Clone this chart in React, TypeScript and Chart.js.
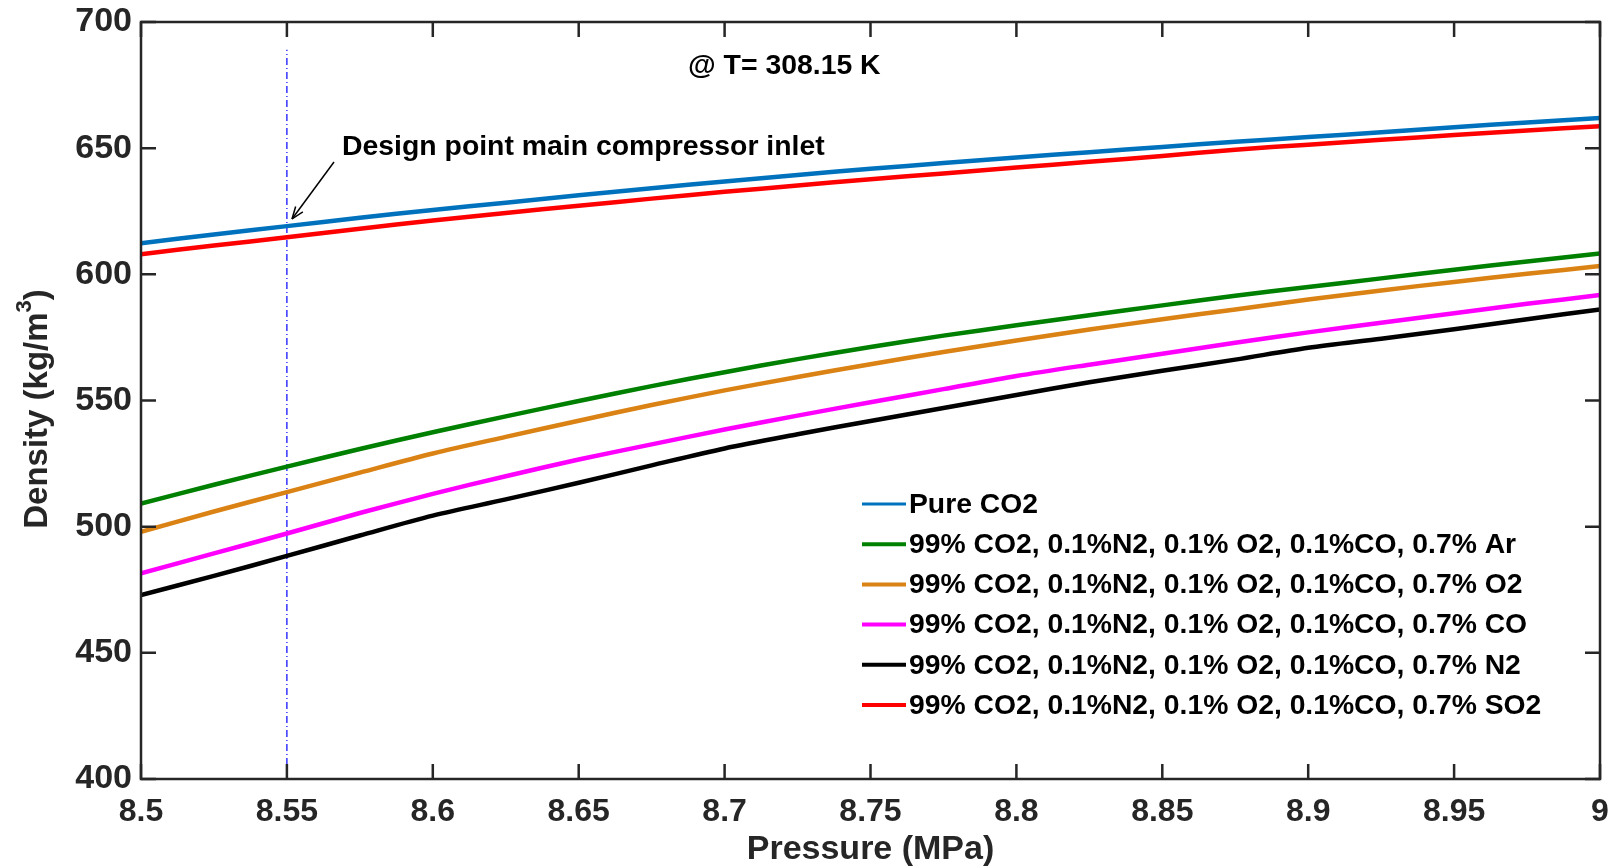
import React, { useEffect, useRef } from "react";
import { Chart, registerables } from "chart.js";

Chart.register(...registerables);

const pressure = [8.5, 8.525, 8.55, 8.575, 8.6, 8.625, 8.65, 8.675, 8.7, 8.725, 8.75, 8.775, 8.8, 8.825, 8.85, 8.875, 8.9, 8.925, 8.95, 8.975, 9.0];

const pureCO2 = [612.3, 615.8, 619.1, 622.4, 625.5, 628.4, 631.3, 634.1, 636.8, 639.4, 641.8, 644.1, 646.3, 648.4, 650.5, 652.5, 654.4, 656.3, 658.3, 660.2, 662.0];
const mixAr = [509.2, 516.6, 523.8, 530.8, 537.4, 543.7, 549.8, 555.7, 561.2, 566.4, 571.2, 575.7, 579.8, 583.8, 587.7, 591.5, 595.0, 598.4, 601.8, 605.1, 608.3];
const mixO2 = [498.0, 506.0, 513.7, 521.4, 529.0, 535.6, 542.0, 548.2, 554.0, 559.3, 564.4, 569.2, 573.8, 578.1, 582.2, 586.1, 590.0, 593.6, 597.0, 600.2, 603.3];
const mixCO = [481.5, 489.4, 497.3, 505.4, 513.0, 520.0, 526.6, 532.6, 538.5, 544.0, 549.3, 554.5, 559.7, 564.2, 568.5, 572.9, 577.0, 580.8, 584.6, 588.3, 591.8];
const mixN2 = [472.9, 480.5, 488.4, 496.5, 504.4, 510.8, 517.4, 524.3, 531.0, 536.6, 541.9, 547.0, 552.2, 557.2, 561.8, 566.2, 570.9, 574.5, 578.2, 582.2, 586.1];
const mixSO2 = [608.0, 611.4, 614.7, 618.1, 621.3, 624.3, 627.2, 630.0, 632.7, 635.2, 637.7, 640.0, 642.3, 644.6, 646.9, 649.4, 651.4, 653.3, 655.2, 657.0, 658.7];

const seriesLabels = [
  "Pure CO2",
  "99% CO2, 0.1%N2, 0.1% O2, 0.1%CO, 0.7% Ar",
  "99% CO2, 0.1%N2, 0.1% O2, 0.1%CO, 0.7% O2",
  "99% CO2, 0.1%N2, 0.1% O2, 0.1%CO, 0.7% CO",
  "99% CO2, 0.1%N2, 0.1% O2, 0.1%CO, 0.7% N2",
  "99% CO2, 0.1%N2, 0.1% O2, 0.1%CO, 0.7% SO2",
];
const seriesColors = ["#0072BD", "#008000", "#DA8214", "#FF00FF", "#000000", "#FF0000"];
const seriesValues = [pureCO2, mixAr, mixO2, mixCO, mixN2, mixSO2];

const designPressure = [8.55, 8.55];
const designDensity = [400, 689];

const yTicks = [400, 450, 500, 550, 600, 650, 700];
const xTicks = [8.5, 8.55, 8.6, 8.65, 8.7, 8.75, 8.8, 8.85, 8.9, 8.95, 9];

const FONT = "'Liberation Sans', Arial, Helvetica, sans-serif";
const AXIS_COLOR = "#262626";

const decorPlugin = {
  id: "decor",
  afterDatasetsDraw(chart: any) {
    const { ctx, chartArea, scales } = chart;
    const { left, right, top, bottom } = chartArea;
    const xs = scales.x;
    const ys = scales.y;
    ctx.save();
    // frame
    ctx.strokeStyle = AXIS_COLOR;
    ctx.lineWidth = 2.5;
    ctx.strokeRect(left, top, right - left, bottom - top);
    // inward ticks
    const tl = 15;
    ctx.beginPath();
    xTicks.forEach((t) => {
      const px = xs.getPixelForValue(t);
      ctx.moveTo(px, bottom);
      ctx.lineTo(px, bottom - tl);
      ctx.moveTo(px, top);
      ctx.lineTo(px, top + tl);
    });
    yTicks.forEach((t) => {
      const py = ys.getPixelForValue(t);
      ctx.moveTo(left, py);
      ctx.lineTo(left + tl, py);
      ctx.moveTo(right, py);
      ctx.lineTo(right - tl, py);
    });
    ctx.stroke();

    // legend
    const lx0 = 862;
    const lx1 = 906;
    const ly0 = 504;
    const lstep = 40.2;
    ctx.font = `bold 28.3px ${FONT}`;
    ctx.textAlign = "left";
    ctx.textBaseline = "middle";
    seriesLabels.forEach((lab, i) => {
      const y = ly0 + i * lstep;
      ctx.strokeStyle = seriesColors[i];
      ctx.lineWidth = i === 0 ? 3 : 4;
      ctx.beginPath();
      ctx.moveTo(lx0, y);
      ctx.lineTo(lx1, y);
      ctx.stroke();
      ctx.fillStyle = "#000";
      ctx.fillText(lab, lx1 + 3, y + 1);
    });

    // annotations
    ctx.fillStyle = "#000";
    ctx.font = `bold 28.4px ${FONT}`;
    ctx.fillText("@ T= 308.15 K", 688, 66);
    ctx.fillText("Design point main compressor inlet", 342, 147);

    // arrow
    const ax0 = 334, ay0 = 162, ax1 = 292, ay1 = 219;
    ctx.strokeStyle = "#000";
    ctx.lineWidth = 1.5;
    ctx.beginPath();
    ctx.moveTo(ax0, ay0);
    ctx.lineTo(ax1, ay1);
    ctx.stroke();
    const ang = Math.atan2(ay1 - ay0, ax1 - ax0);
    const hl = 13;
    const hw = 0.35;
    ctx.beginPath();
    ctx.moveTo(ax1, ay1);
    ctx.lineTo(ax1 - hl * Math.cos(ang - hw), ay1 - hl * Math.sin(ang - hw));
    ctx.moveTo(ax1, ay1);
    ctx.lineTo(ax1 - hl * Math.cos(ang + hw), ay1 - hl * Math.sin(ang + hw));
    ctx.stroke();

    // x title
    ctx.fillStyle = AXIS_COLOR;
    ctx.font = `bold 34px ${FONT}`;
    ctx.textAlign = "center";
    ctx.textBaseline = "middle";
    ctx.fillText("Pressure (MPa)", (left + right) / 2, 850);

    // y title with superscript
    ctx.save();
    ctx.translate(36, 409);
    ctx.rotate(-Math.PI / 2);
    const mainFont = `bold 33px ${FONT}`;
    const supFont = `bold 22px ${FONT}`;
    const p1 = "Density (kg/m";
    const p2 = "3";
    const p3 = ")";
    ctx.font = mainFont;
    const w1 = ctx.measureText(p1).width;
    const w3 = ctx.measureText(p3).width;
    ctx.font = supFont;
    const w2 = ctx.measureText(p2).width;
    const total = w1 + w2 + w3;
    let cx = -total / 2;
    ctx.textAlign = "left";
    ctx.textBaseline = "alphabetic";
    ctx.font = mainFont;
    ctx.fillText(p1, cx, 11);
    cx += w1;
    ctx.font = supFont;
    ctx.fillText(p2, cx, -5);
    cx += w2;
    ctx.font = mainFont;
    ctx.fillText(p3, cx, 11);
    ctx.restore();

    ctx.restore();
  },
};

export default function App() {
  const ref = useRef<HTMLCanvasElement | null>(null);
  useEffect(() => {
    if (!ref.current) return;
    const datasets: any[] = seriesLabels.map((lab, i) => ({
      label: lab,
      data: pressure.map((p, j) => ({ x: p, y: seriesValues[i][j] })),
      borderColor: seriesColors[i],
      backgroundColor: seriesColors[i],
      borderWidth: 4.5,
      pointRadius: 0,
      tension: 0.3,
      fill: false,
    }));
    datasets.push({
      label: "Design point",
      data: designPressure.map((p, j) => ({ x: p, y: designDensity[j] })),
      borderColor: "#0000FF",
      borderWidth: 1.2,
      borderDash: [7, 3, 1, 3],
      pointRadius: 0,
      fill: false,
    });
    const chart = new Chart(ref.current, {
      type: "line",
      data: { datasets },
      plugins: [decorPlugin],
      options: {
        animation: false,
        responsive: false,
        maintainAspectRatio: false,
        layout: { padding: { top: 22, right: 14, left: 0, bottom: 0 } },
        plugins: { legend: { display: false }, tooltip: { enabled: false }, title: { display: false } },
        scales: {
          x: {
            type: "linear",
            min: 8.5,
            max: 9,
            afterBuildTicks: (scale: any) => {
              scale.ticks = xTicks.map((v) => ({ value: v }));
            },
            afterFit: (scale: any) => {
              scale.height = 89;
              scale.paddingLeft = 0;
              scale.paddingRight = 0;
              scale.paddingTop = 0;
              scale.paddingBottom = 0;
            },
            grid: { display: false, drawTicks: false },
            border: { display: false },
            ticks: {
              padding: 14,
              color: AXIS_COLOR,
              font: { family: FONT, size: 32, weight: "bold" },
              callback: (v: any) => String(Number(Number(v).toFixed(2))),
              maxRotation: 0,
              autoSkip: false,
            },
          },
          y: {
            type: "linear",
            min: 400,
            max: 700,
            afterBuildTicks: (scale: any) => {
              scale.ticks = yTicks.map((v) => ({ value: v }));
            },
            afterFit: (scale: any) => {
              scale.width = 141;
              scale.paddingLeft = 0;
              scale.paddingRight = 0;
              scale.paddingTop = 0;
              scale.paddingBottom = 0;
            },
            grid: { display: false, drawTicks: false },
            border: { display: false },
            ticks: {
              padding: 9,
              color: AXIS_COLOR,
              font: { family: FONT, size: 34, weight: "bold" },
              callback: (v: any) => String(v),
              autoSkip: false,
            },
          },
        },
      },
    });
    return () => chart.destroy();
  }, []);
  return (
    <div style={{ position: "absolute", left: 0, top: 0, width: 1614, height: 868, background: "#fff" }}>
      <canvas ref={ref} width={1614} height={868} style={{ width: 1614, height: 868, display: "block" }} />
    </div>
  );
}
